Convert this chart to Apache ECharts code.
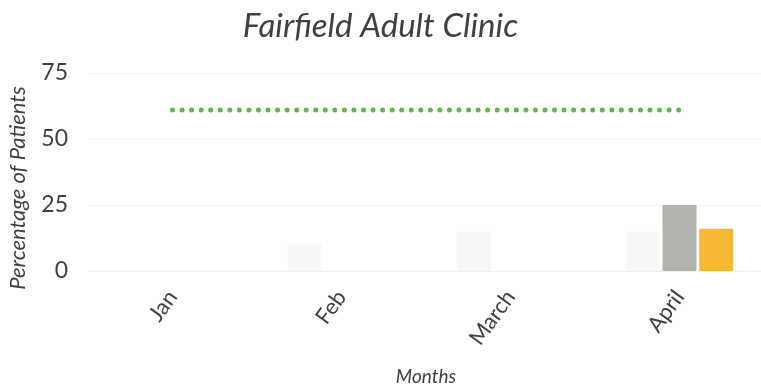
<!DOCTYPE html>
<html>
<head>
<meta charset="utf-8">
<script src="https://cdn.jsdelivr.net/npm/echarts@6/dist/echarts.min.js"></script>
<style>
  html, body { margin: 0; padding: 0; background: #ffffff; }
  #chart { width: 761px; height: 391px; }
</style>
</head>
<body>
<div id="chart"></div>
<script>
// Monthly categories and series values (percent of patients)
const months = ['Jan', 'Feb', 'March', 'April'];
const priorYear = [0, 10, 15, 15];
const clinicRate = [null, null, null, 25];
const peerRate = [null, null, null, 16];
const targetRate = [61, 61, 61, 61];
const yTicks = { min: 0, max: 75, step: 25 };

const FONT = 'Lato, "Open Sans", sans-serif';
const chart = echarts.init(document.getElementById('chart'));

chart.setOption({
  animation: false,
  backgroundColor: '#ffffff',
  title: {
    text: 'Fairfield Adult Clinic',
    left: 'center',
    top: 5,
    textStyle: { fontFamily: FONT, fontStyle: 'italic', fontWeight: 'normal', fontSize: 33, color: '#404040' }
  },
  grid: { left: 88, right: -3, top: 73, bottom: 120, outerBoundsMode: 'none' },
  xAxis: {
    type: 'category',
    data: months,
    axisLine: { show: false },
    axisTick: { show: false },
    axisLabel: { rotate: 54, margin: 22, fontFamily: FONT, fontSize: 22, color: '#404040' },
    name: 'Months',
    nameLocation: 'middle',
    nameGap: 96,
    nameTextStyle: { fontFamily: FONT, fontStyle: 'italic', fontSize: 19, color: '#404040' }
  },
  yAxis: {
    type: 'value',
    min: yTicks.min,
    max: yTicks.max,
    interval: yTicks.step,
    axisLine: { show: false },
    axisTick: { show: false },
    splitLine: { lineStyle: { color: '#f0f0f0', width: 1 } },
    axisLabel: { margin: 20, fontFamily: FONT, fontSize: 23, color: '#404040' },
    name: 'Percentage of Patients',
    nameLocation: 'middle',
    nameRotate: 90,
    nameGap: 59,
    nameTextStyle: {
      fontFamily: FONT, fontStyle: 'italic', fontSize: 22, color: '#404040',
      padding: [0, 32, 0, 0]
    }
  },
  series: [
    {
      name: 'Prior year', type: 'bar', data: priorYear,
      barWidth: 34, barGap: '8%',
      itemStyle: { color: '#f8f8f6' }
    },
    {
      name: 'Clinic', type: 'bar', data: clinicRate,
      barWidth: 34, barGap: '8%',
      itemStyle: { color: '#b4b3af' }
    },
    {
      name: 'Peers', type: 'bar', data: peerRate,
      barWidth: 34, barGap: '8%',
      itemStyle: { color: '#f6b732' }
    },
    {
      name: 'Target', type: 'line', data: targetRate,
      symbol: 'none',
      lineStyle: { color: '#5cb84a', width: 5, type: [0.01, 9.54], cap: 'round' },
      z: 5
    }
  ]
});
</script>
</body>
</html>
